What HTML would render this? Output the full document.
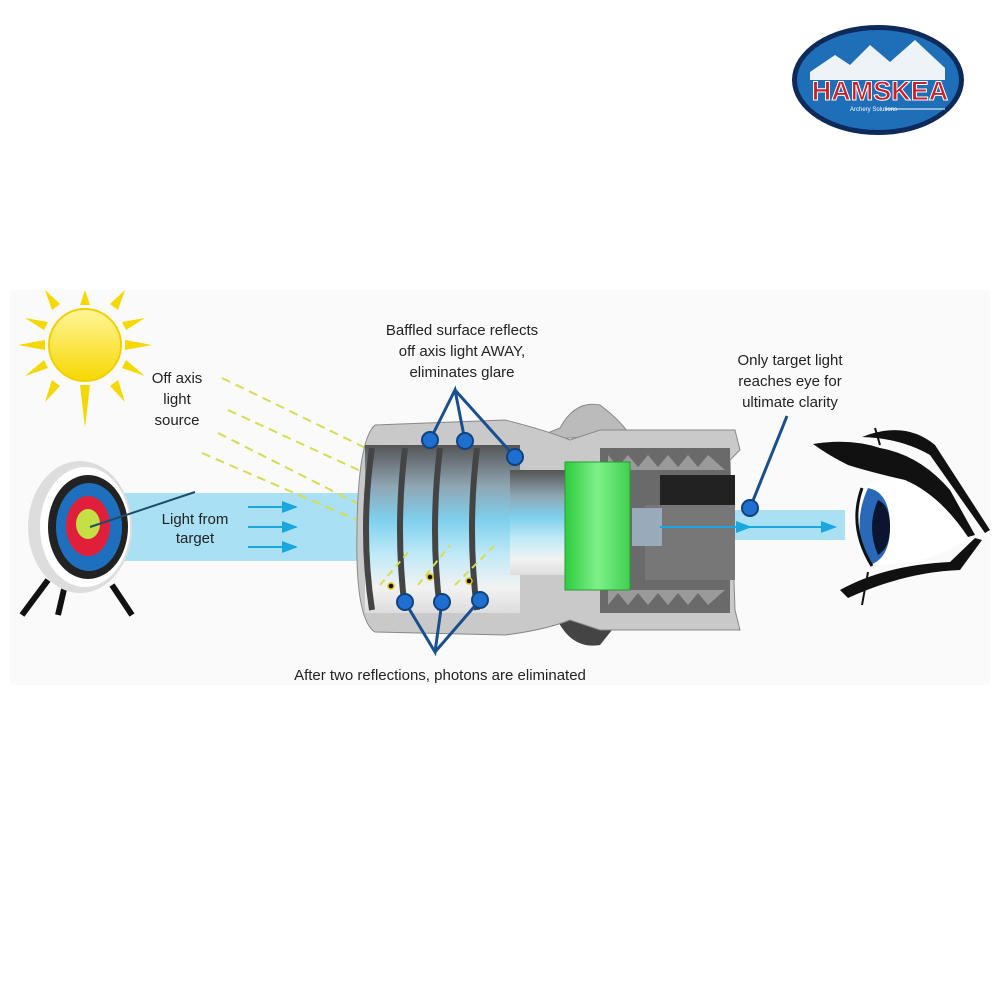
<!DOCTYPE html>
<html><head><meta charset="utf-8"><style>
html,body{margin:0;padding:0;background:#fff;}
svg{display:block;}
text{font-family:"Liberation Sans",sans-serif;fill:#222;}
</style></head><body>
<svg width="1000" height="1000" viewBox="0 0 1000 1000">
<defs>
<linearGradient id="sunG" x1="0" y1="0" x2="0" y2="1"><stop offset="0" stop-color="#fff59a"/><stop offset="1" stop-color="#f7d800"/></linearGradient>
<linearGradient id="bore" x1="0" y1="0" x2="0" y2="1"><stop offset="0" stop-color="#555"/><stop offset="0.25" stop-color="#8fa7b5"/><stop offset="0.45" stop-color="#7fd0ee"/><stop offset="0.65" stop-color="#bfe9f7"/><stop offset="0.85" stop-color="#f2f2f2"/><stop offset="1" stop-color="#ddd"/></linearGradient>
<linearGradient id="green" x1="0" y1="0" x2="1" y2="0"><stop offset="0" stop-color="#2ecc40"/><stop offset="0.5" stop-color="#7ef08a"/><stop offset="1" stop-color="#40d050"/></linearGradient>
<marker id="ar" markerWidth="8" markerHeight="8" refX="7" refY="4" orient="auto"><path d="M0,1 L8,4 L0,7z" fill="#19a7e0"/></marker>
</defs>
<rect x="10" y="290" width="980" height="395" fill="#fafafa"/>
<!-- logo -->
<ellipse cx="878" cy="80" rx="86" ry="55" fill="#0d2a5a"/>
<ellipse cx="878" cy="80" rx="81" ry="50" fill="#1f6fb8"/>
<path d="M810,72 L835,55 L850,65 L870,45 L890,62 L915,40 L945,68 L945,80 L810,80z" fill="#eef3f8"/>
<text x="880" y="100" font-size="27" font-weight="bold" fill="#c8202a" text-anchor="middle" style="fill:#c8202a;stroke:#fff;stroke-width:1">HAMSKEA</text>
<text x="850" y="111" font-size="6" style="fill:#fff">Archery Solutions</text>
<line x1="885" y1="109" x2="945" y2="109" stroke="#fff" stroke-width="1"/>
<!-- sun -->
<g fill="#f5d800">
<polygon points="80,305 90,305 85,290"/><polygon points="80,385 90,385 85,428"/>
<polygon points="45,340 45,350 18,345"/><polygon points="125,340 125,350 152,345"/>
<polygon points="52,310 60,304 45,290"/><polygon points="110,304 118,310 125,290"/>
<polygon points="52,380 60,386 45,402"/><polygon points="110,386 118,380 125,402"/>
<polygon points="48,322 44,330 25,318"/><polygon points="122,322 126,330 145,318"/>
<polygon points="48,368 44,360 25,376"/><polygon points="122,368 126,360 145,376"/>
</g>
<circle cx="85" cy="345" r="36" fill="url(#sunG)" stroke="#f0d000" stroke-width="2"/>
<text x="177" y="383" font-size="15" text-anchor="middle">Off axis</text>
<text x="177" y="404" font-size="15" text-anchor="middle">light</text>
<text x="177" y="425" font-size="15" text-anchor="middle">source</text>
<!-- beam -->
<rect x="100" y="493" width="280" height="68" fill="#a9e0f3"/>
<rect x="620" y="510" width="225" height="30" fill="#a9e0f3"/>
<!-- dashed rays -->
<g stroke="#d7dc55" stroke-width="2" stroke-dasharray="9,6">
<line x1="222" y1="378" x2="380" y2="455"/>
<line x1="228" y1="410" x2="380" y2="480"/>
<line x1="218" y1="433" x2="400" y2="525"/>
<line x1="202" y1="453" x2="380" y2="530"/>
</g>
<!-- target legs -->
<g stroke="#111" stroke-width="6"><line x1="48" y1="580" x2="22" y2="615"/><line x1="65" y1="585" x2="58" y2="615"/><line x1="112" y1="585" x2="132" y2="615"/></g>
<ellipse cx="80" cy="527" rx="52" ry="66" fill="#ddd"/>
<ellipse cx="85" cy="527" rx="45" ry="60" fill="#fff"/>
<ellipse cx="88" cy="527" rx="40" ry="52" fill="#222"/>
<ellipse cx="89" cy="527" rx="33" ry="44" fill="#1f6fbf"/>
<ellipse cx="88" cy="526" rx="22" ry="30" fill="#e0203a"/>
<ellipse cx="88" cy="524" rx="12" ry="15" fill="#c5e045"/>
<line x1="90" y1="527" x2="195" y2="492" stroke="#1f4d6b" stroke-width="2"/>
<text x="195" y="524" font-size="15" text-anchor="middle">Light from</text>
<text x="195" y="543" font-size="15" text-anchor="middle">target</text>
<g stroke="#19a7e0" stroke-width="2" marker-end="url(#ar)"><line x1="248" y1="507" x2="296" y2="507"/><line x1="248" y1="527" x2="296" y2="527"/><line x1="248" y1="547" x2="296" y2="547"/></g>
<!-- device -->
<path d="M560,428 Q575,400 600,405 Q620,420 630,435 L530,440 Z" fill="#bbb" stroke="#888"/>
<path d="M555,615 Q570,650 600,645 L620,620 Z" fill="#444"/>
<path d="M375,425 L505,420 Q545,430 570,440 L600,430 L735,430 L740,450 L730,460 L735,610 L740,630 L600,630 L570,620 Q545,630 505,635 L375,632 Q355,620 357,530 Q358,440 375,425Z" fill="#c9c9c9" stroke="#888"/>
<rect x="365" y="445" width="155" height="168" fill="url(#bore)"/>
<rect x="510" y="470" width="60" height="105" fill="url(#bore)"/>
<g fill="none" stroke="#444" stroke-width="6">
<path d="M372,448 Q360,530 372,610"/><path d="M405,448 Q395,530 405,610"/><path d="M440,448 Q430,530 440,610"/><path d="M477,448 Q467,530 477,610"/>
</g>
<rect x="600" y="448" width="130" height="165" fill="#6a6a6a"/>
<path d="M608,455 l10,12 l10,-12 l10,12 l10,-12 l10,12 l10,-12 l10,12 l10,-12 l10,12 l10,-12 L725,470 L608,470Z" fill="#9a9a9a"/>
<path d="M608,605 l10,-12 l10,12 l10,-12 l10,12 l10,-12 l10,12 l10,-12 l10,12 l10,-12 l10,12 L725,590 L608,590Z" fill="#9a9a9a"/>
<rect x="660" y="475" width="75" height="30" fill="#222"/>
<rect x="645" y="505" width="90" height="75" fill="#777"/>
<rect x="632" y="508" width="30" height="38" fill="#9ab"/>
<rect x="565" y="462" width="65" height="128" fill="url(#green)" stroke="#2a9a30"/>
<line x1="660" y1="527" x2="750" y2="527" stroke="#19a7e0" stroke-width="2" marker-end="url(#ar)"/>
<line x1="750" y1="527" x2="835" y2="527" stroke="#19a7e0" stroke-width="2" marker-end="url(#ar)"/>
<!-- yellow inner dashes -->
<g stroke="#d7dc55" stroke-width="2" stroke-dasharray="7,5"><line x1="380" y1="585" x2="410" y2="550"/><line x1="418" y1="585" x2="450" y2="545"/><line x1="455" y1="585" x2="495" y2="545"/></g>
<g fill="#111" stroke="#e8c400" stroke-width="1.5"><circle cx="391" cy="586" r="3"/><circle cx="430" cy="577" r="3"/><circle cx="469" cy="581" r="3"/></g>
<!-- callouts -->
<g stroke="#1a4f8f" stroke-width="3" fill="none">
<polyline points="430,440 455,390 465,441"/><line x1="455" y1="390" x2="515" y2="457"/>
<polyline points="405,602 435,652 442,602"/><line x1="435" y1="652" x2="480" y2="600"/>
<line x1="750" y1="508" x2="787" y2="416"/>
</g>
<g fill="#1e6fd0" stroke="#12427d" stroke-width="2">
<circle cx="430" cy="440" r="8"/><circle cx="465" cy="441" r="8"/><circle cx="515" cy="457" r="8"/>
<circle cx="405" cy="602" r="8"/><circle cx="442" cy="602" r="8"/><circle cx="480" cy="600" r="8"/>
<circle cx="750" cy="508" r="8"/>
</g>
<text x="462" y="335" font-size="15" text-anchor="middle">Baffled surface reflects</text>
<text x="462" y="356" font-size="15" text-anchor="middle">off axis light AWAY,</text>
<text x="462" y="377" font-size="15" text-anchor="middle">eliminates glare</text>
<text x="790" y="365" font-size="15" text-anchor="middle">Only target light</text>
<text x="790" y="386" font-size="15" text-anchor="middle">reaches eye for</text>
<text x="790" y="407" font-size="15" text-anchor="middle">ultimate clarity</text>
<text x="440" y="680" font-size="15" text-anchor="middle">After two reflections, photons are eliminated</text>
<!-- eye -->
<path d="M862,488 Q885,475 905,478 Q945,500 970,535 Q940,565 870,565 Q850,527 862,488Z" fill="#fff"/>
<path d="M868,488 Q850,527 870,565 Q890,558 890,527 Q890,492 868,488Z" fill="#2a68b8"/>
<path d="M878,500 Q866,527 878,555 Q890,548 890,527 Q890,505 878,500Z" fill="#0b1530"/>
<path d="M862,488 Q848,527 872,566" stroke="#111" stroke-width="3" fill="none"/>
<path d="M813,444 Q850,438 880,448 Q920,455 950,490 L975,535 L968,537 Q940,495 905,480 Q870,472 848,465 Q828,455 813,444Z" fill="#111"/>
<path d="M862,437 Q905,420 935,445 L990,530 L985,533 L930,455 Q900,438 862,437Z" fill="#111"/>
<path d="M840,590 Q885,565 950,562 L975,538 L982,540 L960,570 Q905,572 848,598Z" fill="#111"/>
<line x1="880" y1="445" x2="875" y2="428" stroke="#111" stroke-width="2"/>
<line x1="868" y1="572" x2="862" y2="605" stroke="#111" stroke-width="2"/>
</svg>
</body></html>
